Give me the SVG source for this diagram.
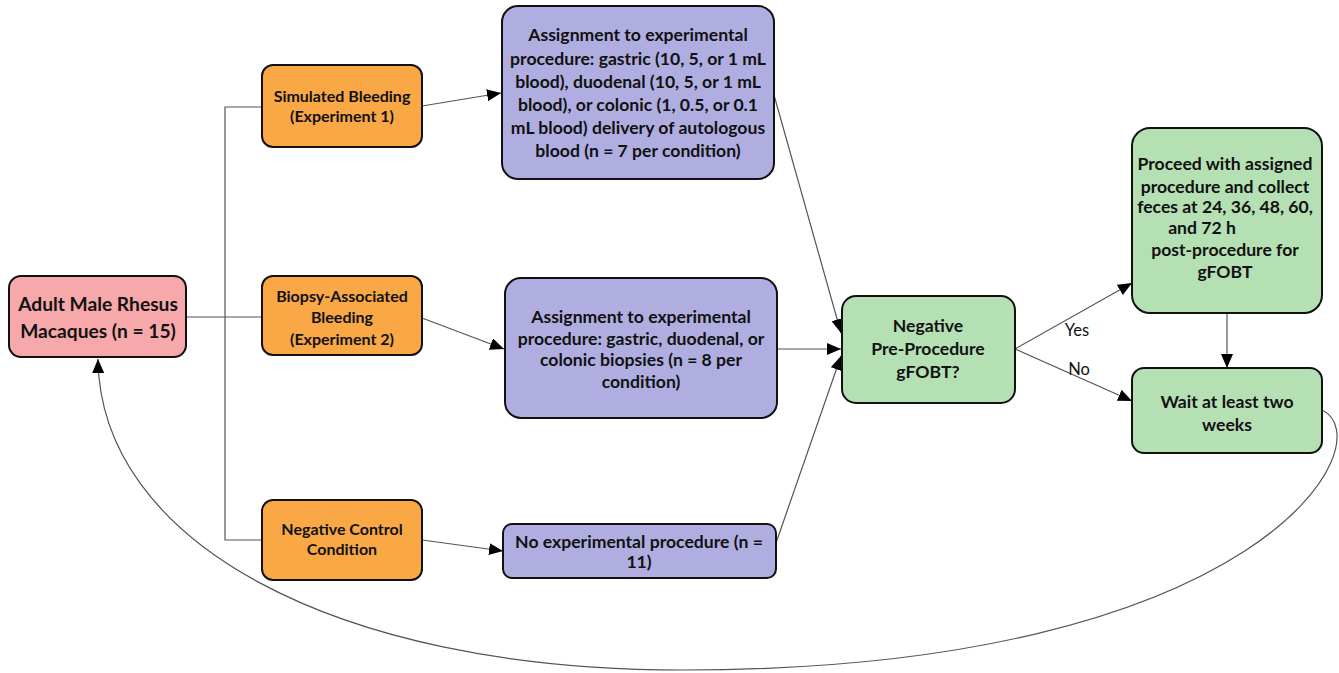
<svg xmlns="http://www.w3.org/2000/svg" width="1339" height="673" viewBox="0 0 1339 673">
<defs>
<style>
.box{stroke:#111;stroke-width:2}
.pink{fill:#F7A8AA}
.orange{fill:#F9A845}
.purple{fill:#B0AEE0}
.green{fill:#B5E0B4}
text{font-family:Lato,"Liberation Sans",sans-serif;font-weight:bold;fill:#111;text-anchor:middle}
.t17{font-size:17.6px}
.t15{font-size:16px}
.t18{font-size:19.2px}
.lbl{font-size:16.5px;font-weight:normal}
.ln{fill:none;stroke:#555;stroke-width:1.2}
</style>
<marker id="ah" viewBox="0 0 14 12" refX="14" refY="6" markerWidth="14" markerHeight="12" markerUnits="userSpaceOnUse" orient="auto">
<path d="M0 0 L14 6 L0 12 Z" fill="#000"/>
</marker>
</defs>
<rect width="1339" height="673" fill="#fff"/>
<g id="connectors">
<polyline class="ln" points="262,107 225,107 225,540 262,540"/>
<line class="ln" x1="186" y1="317" x2="262" y2="317"/>
<line class="ln" x1="422" y1="106" x2="501" y2="93" marker-end="url(#ah)"/>
<line class="ln" x1="422" y1="318" x2="504" y2="349" marker-end="url(#ah)"/>
<line class="ln" x1="422" y1="540" x2="503" y2="551" marker-end="url(#ah)"/>
<line class="ln" x1="774" y1="95" x2="841" y2="333" marker-end="url(#ah)"/>
<line class="ln" x1="777" y1="349" x2="841" y2="349" marker-end="url(#ah)"/>
<line class="ln" x1="776" y1="543" x2="841" y2="356" marker-end="url(#ah)"/>
<line class="ln" x1="1015" y1="349" x2="1132" y2="283" marker-end="url(#ah)"/>
<line class="ln" x1="1015" y1="349" x2="1132" y2="401" marker-end="url(#ah)"/>
<line class="ln" x1="1227" y1="313" x2="1227" y2="368" marker-end="url(#ah)"/>
<path class="ln" d="M1322 410 C1385 440 1265 670 683 670 C330 670 100 540 98 359" marker-end="url(#ah)"/>
<text class="lbl" x="1077" y="336">Yes</text>
<text class="lbl" x="1079" y="375">No</text>
</g>
<g id="adult">
<rect class="box pink" x="9" y="276" width="177" height="81" rx="12"/>
<text class="t18"><tspan x="98" y="311">Adult Male Rhesus</tspan><tspan x="98" y="338">Macaques (n = 15)</tspan></text>
</g>
<g id="simulated">
<rect class="box orange" x="262" y="65" width="160" height="82" rx="11"/>
<text class="t15"><tspan x="342" y="102">Simulated Bleeding</tspan><tspan x="342" y="122">(Experiment 1)</tspan></text>
</g>
<g id="biopsy">
<rect class="box orange" x="262" y="276" width="160" height="79" rx="11"/>
<text class="t15"><tspan x="342" y="302">Biopsy-Associated</tspan><tspan x="342" y="323">Bleeding</tspan><tspan x="342" y="345">(Experiment 2)</tspan></text>
</g>
<g id="negcontrol">
<rect class="box orange" x="262" y="500" width="160" height="80" rx="11"/>
<text class="t15"><tspan x="342" y="535">Negative Control</tspan><tspan x="342" y="555">Condition</tspan></text>
</g>
<g id="assign1">
<rect class="box purple" x="502" y="6" width="272" height="173" rx="16"/>
<text class="t17"><tspan x="638" y="41">Assignment to experimental</tspan><tspan x="638" y="65">procedure: gastric (10, 5, or 1 mL</tspan><tspan x="638" y="88">blood), duodenal (10, 5, or 1 mL</tspan><tspan x="638" y="111">blood), or colonic (1, 0.5, or 0.1</tspan><tspan x="638" y="134">mL blood) delivery of autologous</tspan><tspan x="638" y="157">blood (n = 7 per condition)</tspan></text>
</g>
<g id="assign2">
<rect class="box purple" x="505" y="278" width="272" height="140" rx="16"/>
<text class="t17"><tspan x="641" y="323">Assignment to experimental</tspan><tspan x="641" y="345">procedure: gastric, duodenal, or</tspan><tspan x="641" y="366">colonic biopsies (n = 8 per</tspan><tspan x="641" y="388">condition)</tspan></text>
</g>
<g id="noproc">
<rect class="box purple" x="503" y="524" width="273" height="54" rx="9"/>
<text class="t17"><tspan x="639" y="548">No experimental procedure (n =</tspan><tspan x="639" y="568">11)</tspan></text>
</g>
<g id="decision">
<rect class="box green" x="842" y="296" width="173" height="107" rx="14"/>
<text class="t17"><tspan x="928" y="332">Negative</tspan><tspan x="928" y="355">Pre-Procedure</tspan><tspan x="928" y="378">gFOBT?</tspan></text>
</g>
<g id="proceed">
<rect class="box green" x="1132" y="128" width="190" height="185" rx="18"/>
<text class="t17"><tspan x="1225" y="170">Proceed with assigned</tspan><tspan x="1225" y="193">procedure and collect</tspan><tspan x="1225" y="213">feces at 24, 36, 48, 60,</tspan><tspan x="1225" y="256">post-procedure for</tspan><tspan x="1225" y="278">gFOBT</tspan></text>
<text class="t17" x="1202" y="234">and 72 h</text>
</g>
<g id="wait">
<rect class="box green" x="1132" y="368" width="190" height="85" rx="12"/>
<text class="t17"><tspan x="1227" y="408">Wait at least two</tspan><tspan x="1227" y="431">weeks</tspan></text>
</g>
</svg>
